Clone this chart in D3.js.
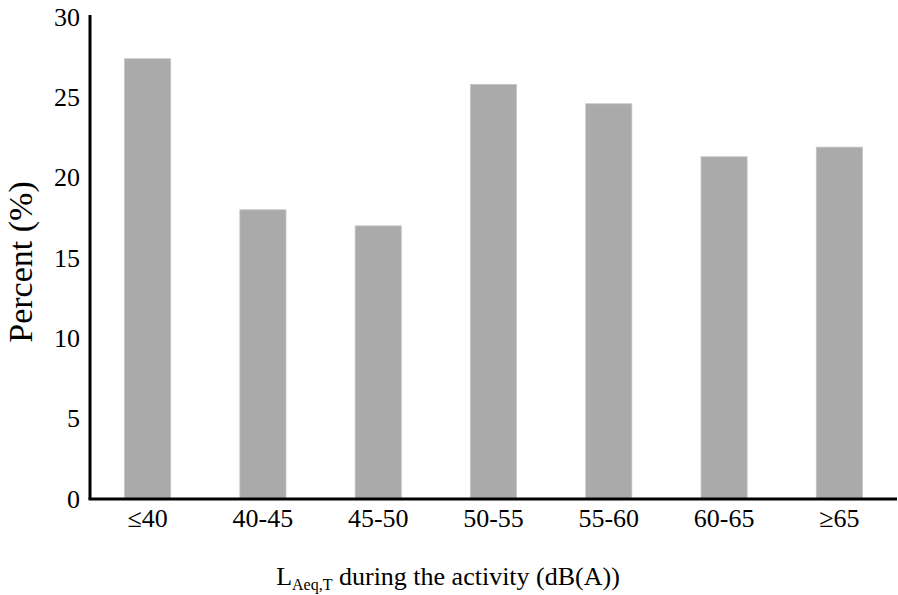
<!DOCTYPE html>
<html><head><meta charset="utf-8">
<script src="https://cdn.jsdelivr.net/npm/d3@7"></script>
<style>body{margin:0;background:#fff}text{font-family:"Liberation Serif","Times New Roman",serif}</style>
</head><body>
<svg id="c" width="898" height="595"></svg>
<script>
const categories = ["≤40","40-45","45-50","50-55","55-60","60-65","≥65"];
const values = [27.4, 18.0, 17.0, 25.8, 24.6, 21.3, 21.9];
const yTicks = [0,5,10,15,20,25,30];

const svg = d3.select("#c");
const x = d3.scaleBand().domain(categories).range([90, 897]).paddingInner(0.6).paddingOuter(0.3);
const y = d3.scaleLinear().domain([0,30]).range([499, 17]);

svg.selectAll("rect.bar").data(values).join("rect")
  .attr("class","bar")
  .attr("x",(d,i)=>x(categories[i]))
  .attr("width",x.bandwidth())
  .attr("y",d=>y(d))
  .attr("height",d=>y(0)-y(d))
  .attr("fill","#aaaaaa")
  .attr("stroke","#c4c4c4").attr("stroke-width",0.8);

const yAxis = svg.append("g").attr("transform","translate(90,0)")
  .call(d3.axisLeft(y).tickValues(yTicks).tickSize(0).tickPadding(10));
yAxis.select(".domain").attr("d",`M0,${y(30)-2}V${y(0)}`).attr("stroke","#000").attr("stroke-width",3);
yAxis.selectAll("text").attr("font-size",26).attr("fill","#000");

const xAxis = svg.append("g").attr("transform",`translate(0,${y(0)})`)
  .call(d3.axisBottom(x).tickSize(0).tickPadding(10));
xAxis.select(".domain").attr("d","M88.5,0H897").attr("stroke","#000").attr("stroke-width",3);
xAxis.selectAll("text").attr("font-size",26).attr("fill","#000");

svg.append("text").attr("transform","translate(32,262) rotate(-90)")
  .attr("text-anchor","middle").attr("font-size",34).text("Percent (%)");

const t = svg.append("text").attr("x",448).attr("y",585).attr("text-anchor","middle").attr("font-size",26);
t.append("tspan").text("L");
t.append("tspan").attr("font-size",16).attr("dy",5).text("Aeq,T");
t.append("tspan").attr("dy",-5).text(" during the activity (dB(A))");
</script>
</body></html>
